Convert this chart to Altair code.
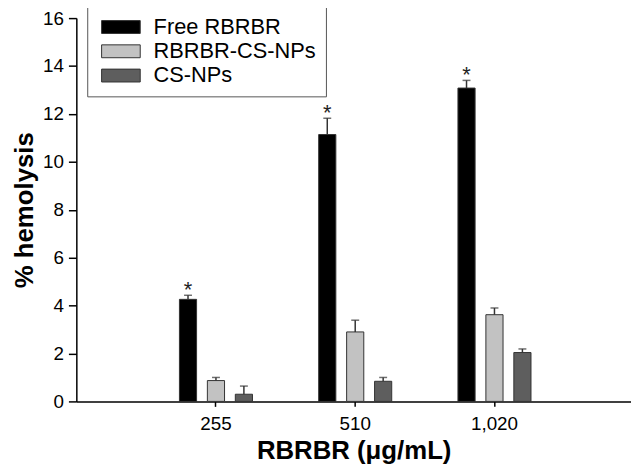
import altair as alt
import pandas as pd

concentrations = ["255", "510", "1,020"]
groups = ["Free RBRBR", "RBRBR-CS-NPs", "CS-NPs"]
free_rbrbr = [4.26, 11.14, 13.08]
free_rbrbr_err = [0.17, 0.68, 0.32]
rbrbr_cs_nps = [0.87, 2.90, 3.62]
rbrbr_cs_nps_err = [0.13, 0.49, 0.28]
cs_nps = [0.30, 0.84, 2.04]
cs_nps_err = [0.34, 0.16, 0.15]
free_marks = ["*", "*", "*"]
colors = ["#000000", "#c2c2c2", "#5e5e5e"]
y_ticks = [0, 2, 4, 6, 8, 10, 12, 14, 16]

rows = []
for g, vals, errs in zip(groups, [free_rbrbr, rbrbr_cs_nps, cs_nps],
                         [free_rbrbr_err, rbrbr_cs_nps_err, cs_nps_err]):
    for i, c in enumerate(concentrations):
        rows.append({
            "conc": c, "group": g, "value": vals[i], "err": errs[i],
            "upper": vals[i] + errs[i],
            "mark": free_marks[i] if g == groups[0] else "",
        })
df = pd.DataFrame(rows)

FONT = "Liberation Sans"

x_enc = alt.X(
    "conc:N", sort=concentrations,
    scale=alt.Scale(domain=concentrations, paddingInner=0.398, paddingOuter=0.6905,
                    align=0.508, round=False),
    axis=alt.Axis(title="RBRBR (μg/mL)", labelAngle=0),
)
xo_enc = alt.XOffset(
    "group:N", sort=groups,
    scale=alt.Scale(domain=groups, paddingInner=0.386, paddingOuter=0.193, round=False),
)
y_scale = alt.Scale(domain=[0, 16], nice=False)
y_axis = alt.Axis(values=y_ticks, title="% hemolysis")

bars = alt.Chart(df).mark_bar(stroke="#333333", strokeWidth=1).encode(
    x=x_enc,
    xOffset=xo_enc,
    y=alt.Y("value:Q", scale=y_scale, axis=y_axis),
    color=alt.Color(
        "group:N",
        scale=alt.Scale(domain=groups, range=colors),
        legend=alt.Legend(
            title=None, orient="none", legendX=11, legendY=-12, direction="vertical",
            symbolType="M-1,-1H5V1H-1Z", symbolSize=169,
            symbolStrokeColor="#333333", symbolStrokeWidth=1, symbolOpacity=1,
            labelFontSize=22, labelFont=FONT, labelColor="black", labelOffset=35,
            labelLimit=400,
            padding=10, strokeColor="#555555", fillColor="white", rowPadding=2.5,
        ),
    ),
)

rules = alt.Chart(df).mark_rule(color="#333333", strokeWidth=1.5).encode(
    x=x_enc, xOffset=xo_enc,
    y=alt.Y("value:Q", scale=y_scale, axis=y_axis),
    y2="upper:Q",
)

caps = alt.Chart(df).mark_tick(orient="horizontal", size=8, thickness=1.5,
                               color="#333333").encode(
    x=x_enc, xOffset=xo_enc,
    y=alt.Y("upper:Q", scale=y_scale, axis=y_axis),
)

stars = alt.Chart(df).transform_filter("datum.mark != ''").mark_text(
    fontSize=22, font=FONT, baseline="alphabetic", dy=2, color="#222222"
).encode(
    x=x_enc, xOffset=xo_enc,
    y=alt.Y("upper:Q", scale=y_scale, axis=y_axis),
    text="mark:N",
)

chart = alt.layer(bars, rules, caps, stars).properties(
    width=560, height=387,
    autosize=alt.AutoSizeParams(type="none"),
    padding={"left": 69, "top": 8, "right": 0, "bottom": 62},
).configure_view(stroke=None).configure_axis(
    labelFont=FONT, titleFont=FONT, labelColor="black", titleColor="black",
    domainColor="black", domainWidth=1.5, tickColor="black", tickWidth=1.5,
    grid=False, labelFontSize=19, titleFontSize=26, titleFontWeight="bold",
).configure_axisY(
    tickSize=8, labelPadding=5, titlePadding=5,
).configure_axisX(
    tickSize=5, labelPadding=8, titlePadding=5,
)

chart.save("out.html", embed_options={"renderer": "svg", "actions": False})
